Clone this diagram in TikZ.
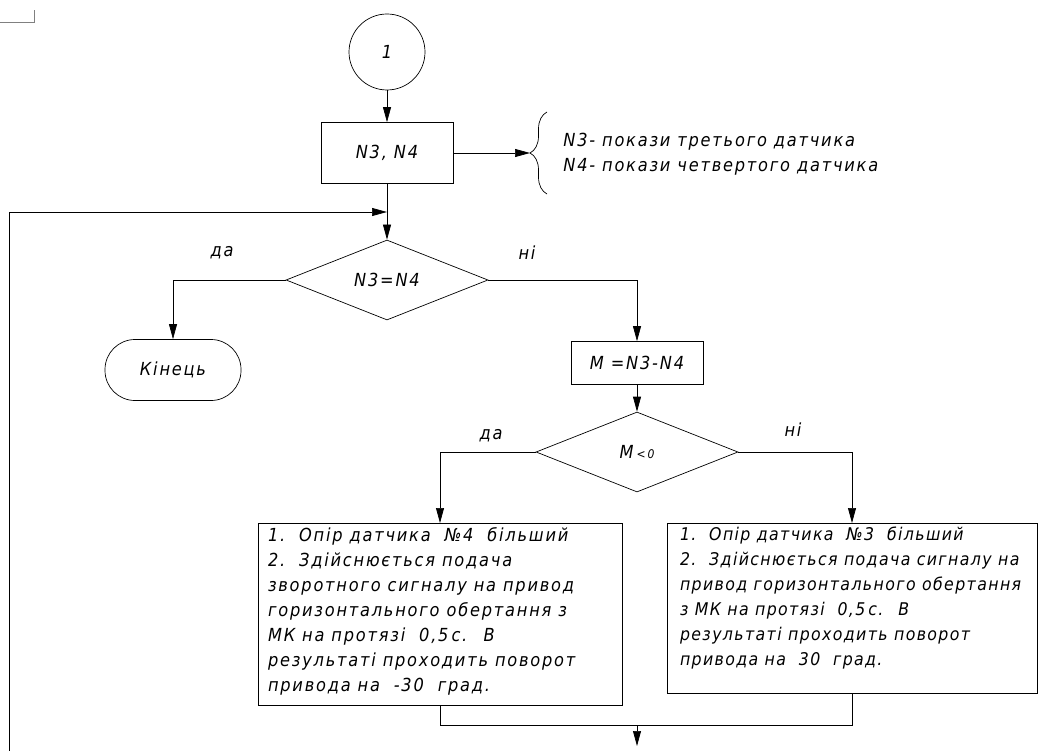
\documentclass[tikz,border=0pt]{standalone}
\usepackage{fontspec}
\setmainfont{DejaVu Sans Condensed}[ItalicFont={DejaVu Sans Condensed Oblique}, LetterSpace=10]
\usetikzlibrary{arrows.meta, shapes.geometric, decorations.pathreplacing}

\begin{document}
\begin{tikzpicture}[x=1pt, y=-1pt, >={Triangle[length=15pt, width=8pt]}, line width=0.7pt,
    every node/.style={font=\itshape\fontsize{18}{25}\selectfont},
    block/.style={draw, rectangle, inner sep=0pt},
    textblock/.style={draw, rectangle, anchor=north, inner xsep=10pt, inner ysep=4pt},
    decision/.style={draw, diamond, minimum width=202pt, minimum height=80pt, inner sep=0pt},
    terminal/.style={draw, rectangle, rounded corners=30pt, minimum width=136pt, minimum height=61pt},
    connector/.style={draw, circle, minimum size=76pt, inner sep=0pt},
    note/.style={align=left, inner sep=0pt, anchor=west}]
      \useasboundingbox (0,0) rectangle (1040,751);
      % frame fragment in the corner
      \draw[gray] (0,22) -- (34,22) -- (34,10);

      % Start and input
      \node[connector] (start) at (387,52) {1};
      \node[block, minimum width=132pt, minimum height=61pt] (input) at (387,153) {N3, N4};
      \coordinate (bracetip) at (530,153);
      \draw[decorate, decoration={brace, amplitude=17pt}] (547,194) -- (547,112);
      \node[note] (legend) at (563,154) {N3- покази третього датчика\\N4- покази четвертого датчика};

      % First check
      \node[decision] (equal) at (387,280) {N3=N4};
      \node[terminal] (finish) at (173,370) {Кінець};
      \node (yes1) at (222,253) {да};
      \node (no1) at (527,253) {ні};

      % Difference and second check
      \node[block, minimum width=132pt, minimum height=43pt] (diff) at (637,363) {M =N3-N4};
      \node[decision] (sign) at (637,452) {M\,{\fontsize{12}{12}\selectfont<\,0}};
      \node (yes2) at (491,436) {да};
      \node (no2) at (793,430) {ні};

      % Actions
      \node[textblock] (ccw) at (440,523) {\parbox[t][174pt][t]{344pt}{\raggedright
        1.\ \ Опір датчика \ №4 \ більший\\
        2.\ \ Здійснюється подача\\
        зворотного сигналу на привод\\
        горизонтального обертання з\\
        МК на протязі \ 0,5\,с. \ В\\
        результаті проходить поворот\\
        привода на \ -30 \ град.}};
      \node[textblock, inner xsep=13pt] (cw) at (852,523) {\parbox[t][162pt][t]{344pt}{\raggedright
        \fontsize{17.5}{25}\selectfont\addfontfeatures{LetterSpace=8}%
        1.\ \ Опір датчика \ №3 \ більший\\
        2.\ \ Здійснюється подача сигналу на\\
        привод горизонтального обертання\\
        з МК на протязі \ 0,5\,с. \ В\\
        результаті проходить поворот\\
        привода на \ 30 \ град.}};
      \coordinate (merge) at (637,725);
      \coordinate (exit) at (637,746);

      % Return line
      \coordinate (loopin) at (9,751);
      \coordinate (join) at (387,212);

      % Arrows
      \draw[->] (start) -- (input);
      \draw[->] (input) -- (bracetip);
      \draw[->] (input) -- (equal);
      \draw[->] (loopin) |- (join);
      \draw[->] (equal.west) -| (finish.north);
      \draw[->] (equal.east) -| (diff.north);
      \draw[->] (diff) -- (sign);
      \draw[->] (sign.west) -| (ccw.north);
      \draw[->] (sign.east) -| (cw.north);
      \draw (ccw.south) |- (merge);
      \draw (cw.south) |- (merge);
      \draw[->] (merge) -- (exit);
    \end{tikzpicture}
\end{document}
